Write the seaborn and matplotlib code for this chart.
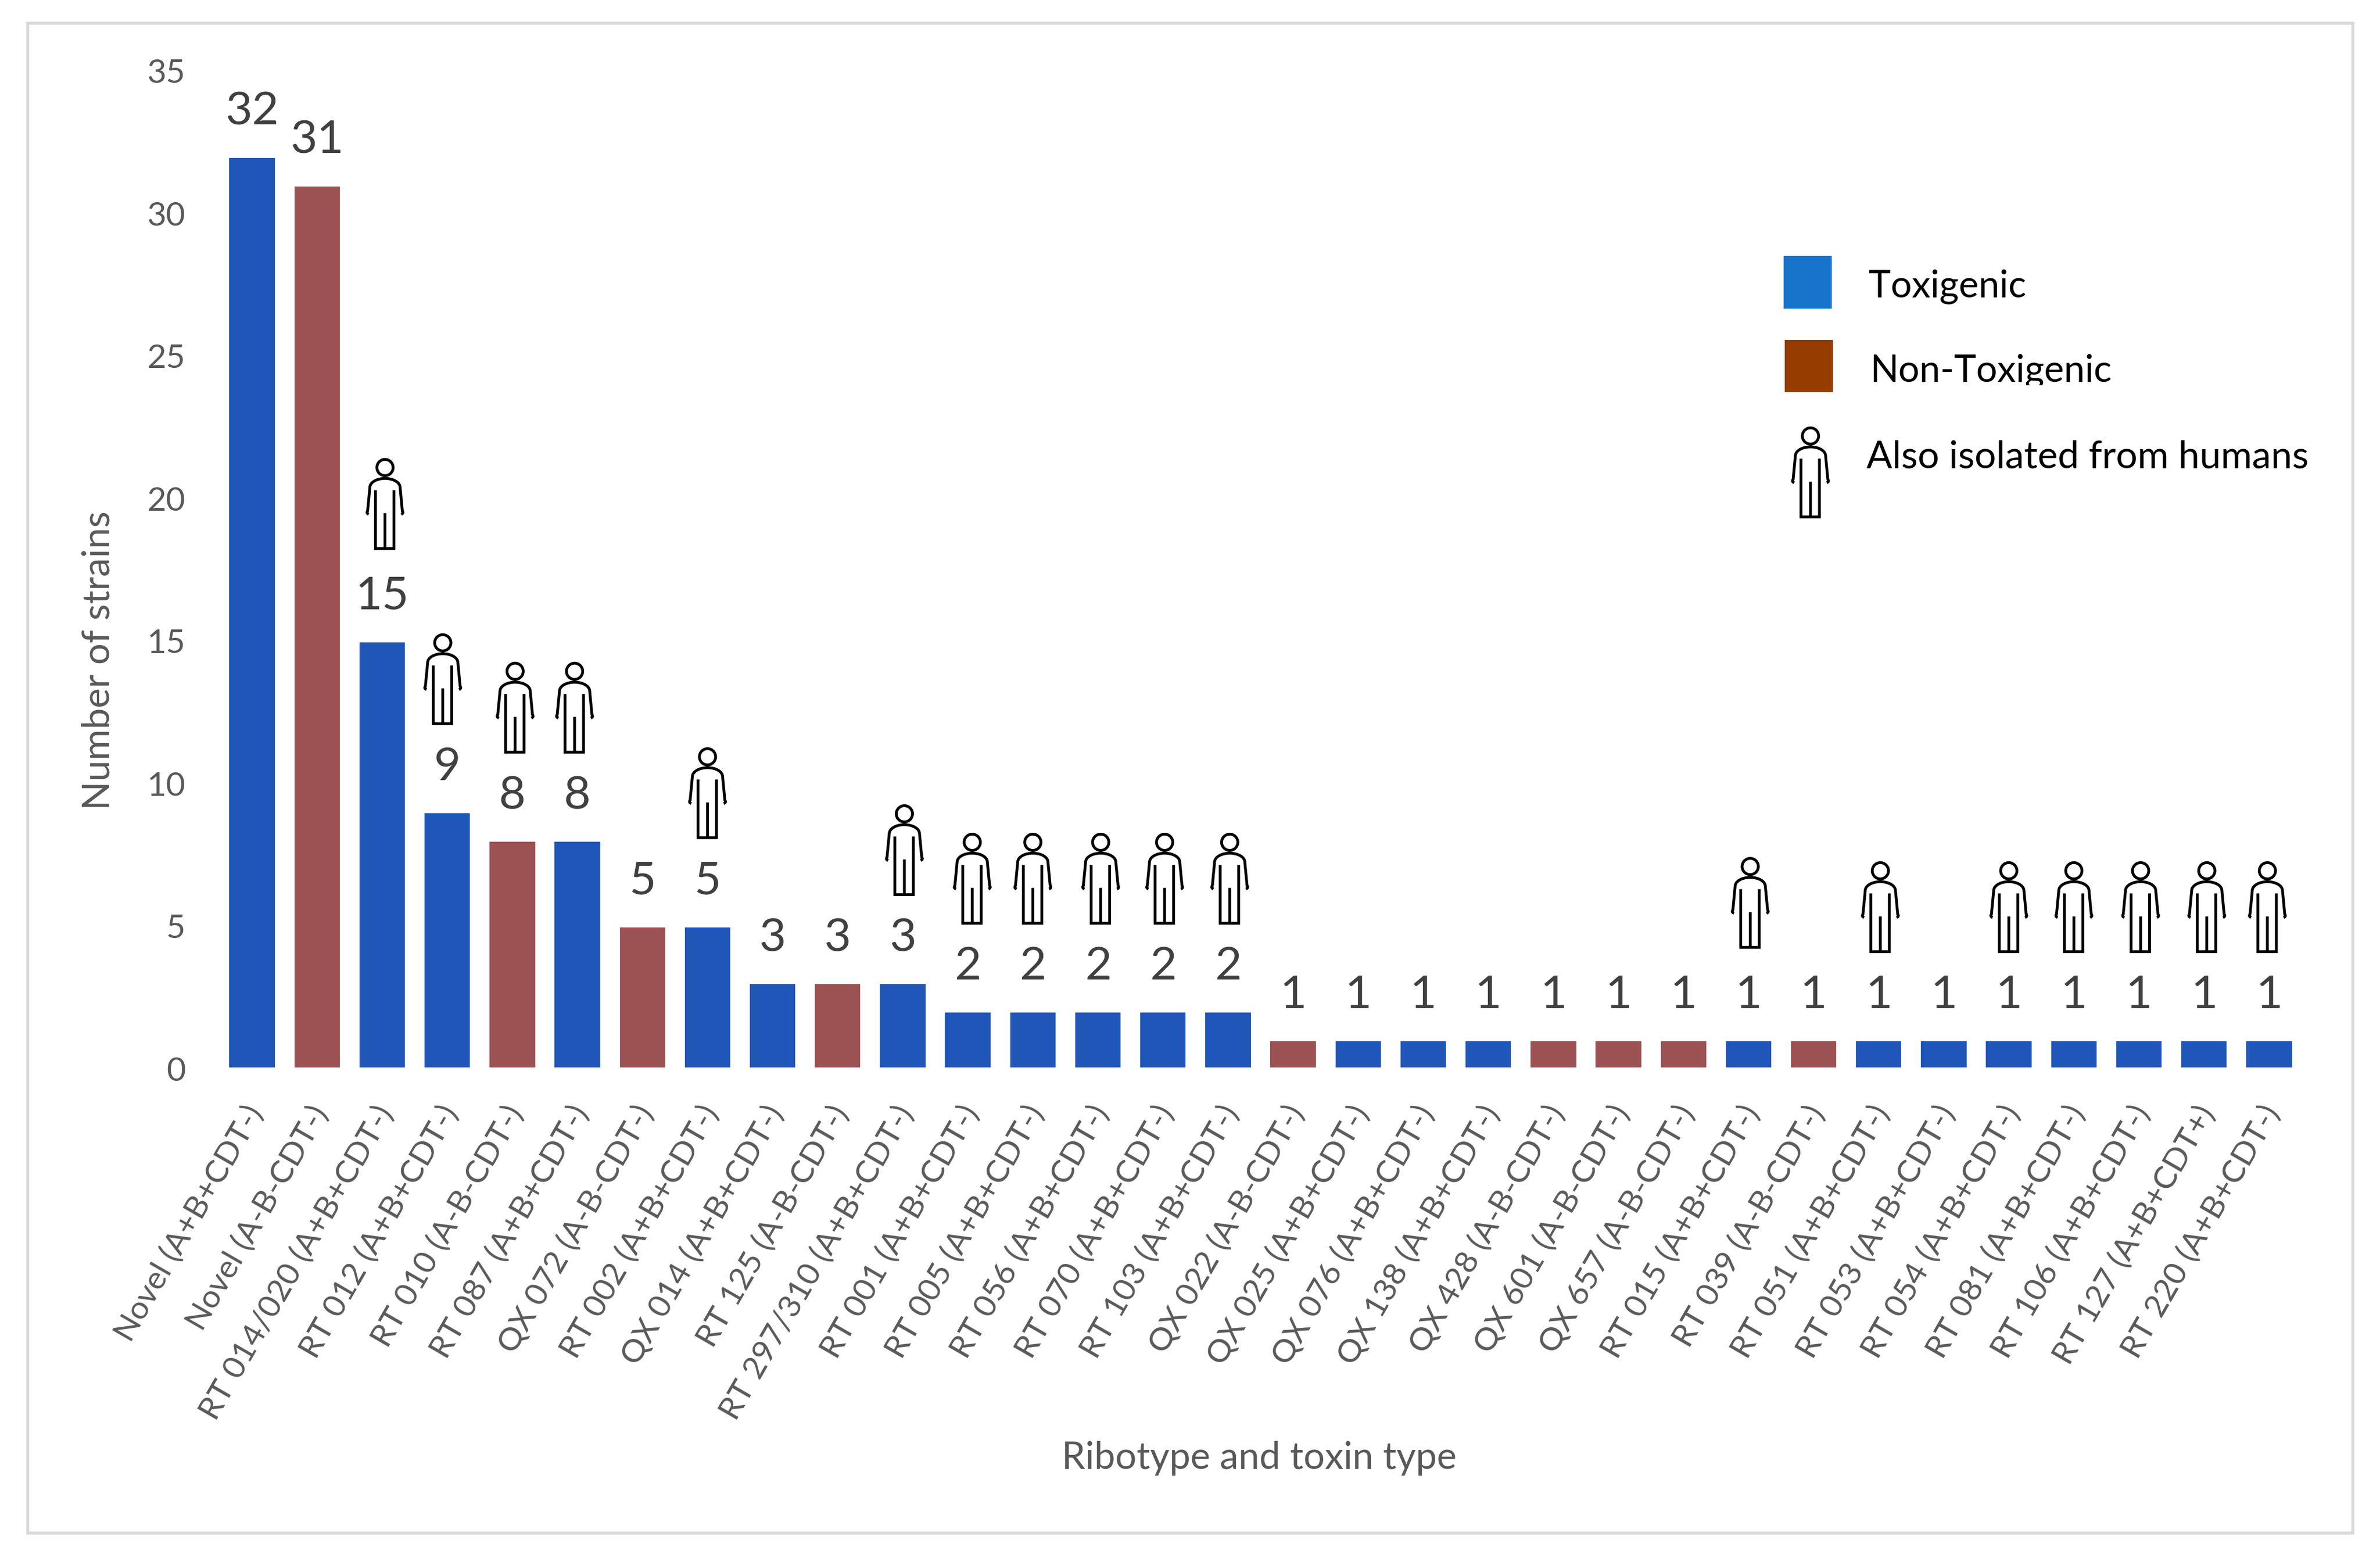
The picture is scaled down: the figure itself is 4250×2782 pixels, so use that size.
import matplotlib
matplotlib.use("Agg")
import pandas as pd
import seaborn as sns
import matplotlib.pyplot as plt
from matplotlib.path import Path
from matplotlib.patches import PathPatch, Rectangle
from matplotlib.transforms import Affine2D, Bbox, TransformedBbox

# ribotype / toxin type, number of strains
labels = ["Novel (A+B+CDT-)", "Novel (A-B-CDT-)", "RT 014/020 (A+B+CDT-)", "RT 012 (A+B+CDT-)",
          "RT 010 (A-B-CDT-)", "RT 087 (A+B+CDT-)", "QX 072 (A-B-CDT-)", "RT 002 (A+B+CDT-)",
          "QX 014 (A+B+CDT-)", "RT 125 (A-B-CDT-)", "RT 297/310 (A+B+CDT-)", "RT 001 (A+B+CDT-)",
          "RT 005 (A+B+CDT-)", "RT 056 (A+B+CDT-)", "RT 070 (A+B+CDT-)", "RT 103 (A+B+CDT-)",
          "QX 022 (A-B-CDT-)", "QX 025 (A+B+CDT-)", "QX 076 (A+B+CDT-)", "QX 138 (A+B+CDT-)",
          "QX 428 (A-B-CDT-)", "QX 601 (A-B-CDT-)", "QX 657 (A-B-CDT-)", "RT 015 (A+B+CDT-)",
          "RT 039 (A-B-CDT-)", "RT 051 (A+B+CDT-)", "RT 053 (A+B+CDT-)", "RT 054 (A+B+CDT-)",
          "RT 081 (A+B+CDT-)", "RT 106 (A+B+CDT-)", "RT 127 (A+B+CDT+)", "RT 220 (A+B+CDT-)"]
counts = [32, 31, 15, 9, 8, 8, 5, 5, 3, 3, 3, 2, 2, 2, 2, 2,
          1, 1, 1, 1, 1, 1, 1, 1, 1, 1, 1, 1, 1, 1, 1, 1]
toxin = ["T", "N", "T", "T", "N", "T", "N", "T", "T", "N", "T", "T", "T", "T", "T", "T",
         "N", "T", "T", "T", "N", "N", "N", "T", "N", "T", "T", "T", "T", "T", "T", "T"]
# index of the ribotypes also found in humans
human_idx = [2, 3, 4, 5, 7, 10, 11, 12, 13, 14, 15, 23, 25, 27, 28, 29, 30, 31]
# the icons were placed by hand in the original, small sideways nudges in pixels
icon_nudge = {2: 5, 3: -8, 4: 5, 5: -5, 10: 3, 11: 8, 13: 5, 14: 3, 15: 3, 23: 3, 25: 3, 29: 3, 30: 5, 31: -3}

W, H = 4250, 2782
DPI = 300
FONT = "Lato"
AX_L, AX_R, AX_T, AX_B = 392, 4110, 127, 1908

sns.set_theme(style="white")
plt.rcParams["font.family"] = FONT

df = pd.DataFrame({"label": labels, "count": counts, "toxin": toxin})

fig = plt.figure(figsize=(W / DPI, H / DPI), dpi=DPI, facecolor="white")

# overlay in pixel coordinates for the frame and the hand made legend
bg = fig.add_axes([0, 0, 1, 1], zorder=0)
bg.set_xlim(0, W)
bg.set_ylim(H, 0)
bg.axis("off")
bg.add_patch(Rectangle((49, 41), 4152, 2696, fill=False, ec="#D9D9D9", lw=1.3))

ax = fig.add_axes([AX_L / W, 1 - AX_B / H, (AX_R - AX_L) / W, (AX_B - AX_T) / H], zorder=1)
ax.patch.set_alpha(0)
sns.barplot(data=df, x="label", y="count", hue="toxin", hue_order=["T", "N"],
            palette={"T": "#2056B8", "N": "#9C5252"}, dodge=False, width=0.735,
            saturation=1, legend=False, ax=ax)
ax.set_xlim(-0.5, 31.5)
ax.set_ylim(0, 35)
ax.set_yticks(range(0, 36, 5))
sns.despine(ax=ax, left=True, bottom=True)
ax.tick_params(axis="y", length=0, pad=14.6, labelsize=14.2, labelcolor="#595959")
ax.tick_params(axis="x", length=0, pad=17, labelsize=13.8, labelcolor="#595959")
plt.setp(ax.get_xticklabels(), rotation=60, ha="right", va="center", rotation_mode="anchor")
for lab in ax.get_xticklabels():
    lab.set_transform(lab.get_transform() + Affine2D().translate(7, 0))

ax.set_xlabel("Ribotype and toxin type", fontsize=16.1, color="#595959")
ax.set_ylabel("Number of strains", fontsize=16.2, color="#595959")
ax.xaxis.set_label_coords(2249, 2604, transform=bg.transData)
ax.yaxis.set_label_coords(177, 1179, transform=bg.transData)
ax.xaxis.label.set_verticalalignment("center")
ax.yaxis.label.set_verticalalignment("center")

for i, c in enumerate(counts):
    ax.text(i, c + 1.57, str(c), ha="center", va="center", fontsize=19.8, color="#404040")


# person icon, pixel units, x from the middle, y down from the top of the head
def person_path():
    body = [(-27, 50), (-27, 41), (-15, 34), (0, 34), (15, 34), (27, 41), (27, 50),
            (31, 92), (34, 96), (29, 98),
            (-27, 50), (-31, 92), (-34, 96), (-29, 98),
            (-17, 55), (-17, 159), (16, 159), (16, 55),
            (0, 96), (0, 159)]
    codes = [Path.MOVETO, Path.CURVE4, Path.CURVE4, Path.CURVE4, Path.CURVE4, Path.CURVE4, Path.CURVE4,
             Path.LINETO, Path.CURVE3, Path.CURVE3,
             Path.MOVETO, Path.LINETO, Path.CURVE3, Path.CURVE3,
             Path.MOVETO, Path.LINETO, Path.LINETO, Path.LINETO,
             Path.MOVETO, Path.LINETO]
    head = Path.circle((0, 14.5), 14.5)
    return Path.make_compound_path(head, Path(body, codes))


PERSON = person_path()
px_x = (AX_R - AX_L) / 32
px_y = (AX_B - AX_T) / 35

for i in human_idx:
    # the icons stand about 3.1 units above the bar, two of them a bit higher
    gap = 3.25 if i in (2, 23) else 3.1
    top = counts[i] + gap + 159 / px_y
    x = i + icon_nudge.get(i, 0) / px_x
    tr = Affine2D().scale(1 / px_x, -1 / px_y).translate(x, top) + ax.transData
    ax.add_patch(PathPatch(PERSON, fill=False, ec="black", lw=1.2, transform=tr, clip_on=False))

# legend
bg.add_patch(Rectangle((3185, 457), 86, 94, fc="#1874CA", ec="none"))
bg.add_patch(Rectangle((3187, 607), 86, 93, fc="#973C00", ec="none"))
bg.text(3337, 512, "Toxigenic", fontsize=16, color="black", va="center")
t = bg.text(3340, 663, "Non-Toxigenic", fontsize=16, color="black", va="center")
# the descender of this label is cut off in the original
t.set_clip_on(True)
t.set_clip_box(TransformedBbox(Bbox([[3300, 600], [4000, 688]]), bg.transData))
bg.text(3333, 817, "Also isolated from humans", fontsize=16.3, color="black", va="center")
bg.add_patch(PathPatch(PERSON, fill=False, ec="black", lw=1.2,
                       transform=Affine2D().translate(3233, 764) + bg.transData))

fig.savefig("out.png", dpi=DPI)
